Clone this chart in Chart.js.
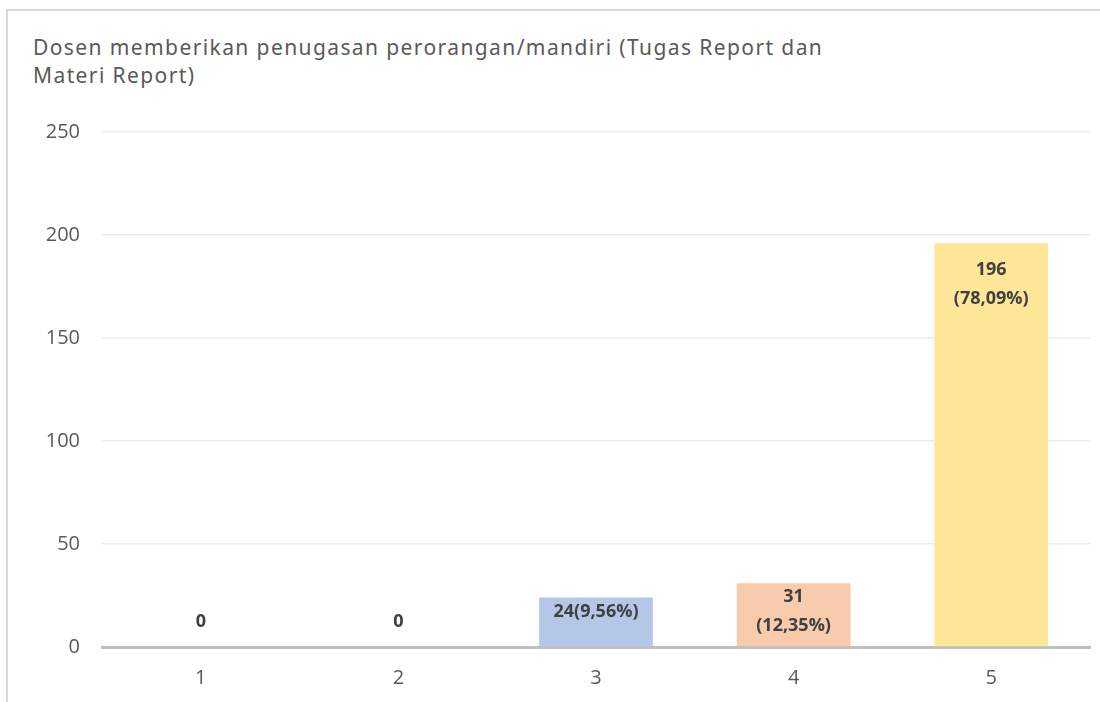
<!DOCTYPE html>
<html>
<head>
<meta charset="utf-8">
<script src="https://cdn.jsdelivr.net/npm/chart.js@4"></script>
<style>
  html, body { margin: 0; padding: 0; background: #fff; overflow: hidden; }
  #wrap { position: relative; width: 1100px; height: 702px; }
  #frame { position: absolute; left: 6px; top: 9px; width: 1100px; height: 700px; border: 2px solid #d9d9d9; box-sizing: border-box; }
  #title { position: absolute; left: 33px; top: 33px; font-family: "Noto Sans", sans-serif; font-size: 21px; line-height: 28px; color: #595959; letter-spacing: 1.4px; }
  canvas { position: absolute; left: 0; top: 0; }
</style>
</head>
<body>
<div id="wrap">
  <div id="frame"></div>
  <div id="title">Dosen memberikan penugasan perorangan/mandiri (Tugas Report dan<br>Materi Report)</div>
  <canvas id="chart" width="1100" height="702"></canvas>
</div>
<script>
const categories = ['1', '2', '3', '4', '5'];
const counts = [0, 0, 24, 31, 196];
const barLabels = [['0'], ['0'], ['24(9,56%)'], ['31', '(12,35%)'], ['196', '(78,09%)']];
const barColors = ['#b4c7e7', '#b4c7e7', '#b4c7e7', '#f8cbad', '#ffe699'];
const yTicks = [0, 50, 100, 150, 200, 250];

// Labels drawn on/above each bar
const barLabelPlugin = {
  id: 'barLabels',
  afterDatasetsDraw(chart) {
    const ctx = chart.ctx;
    const meta = chart.getDatasetMeta(0);
    ctx.save();
    ctx.font = 'bold 18px "Open Sans", sans-serif';
    ctx.fillStyle = '#404040';
    ctx.textAlign = 'center';
    ctx.textBaseline = 'middle';
    meta.data.forEach((bar, i) => {
      const lines = barLabels[i];
      let y;
      if (counts[i] === 0) y = bar.base - 25;
      else if (counts[i] > 100) y = bar.y + 27;
      else y = bar.y + 14;
      lines.forEach((txt, j) => ctx.fillText(txt, bar.x, y + j * 29));
    });
    ctx.restore();
  }
};

const tickFont = { family: '"Open Sans", sans-serif', size: 20 };

new Chart(document.getElementById('chart'), {
  type: 'bar',
  data: {
    labels: categories,
    datasets: [{
      data: counts,
      backgroundColor: barColors,
      borderWidth: 0,
      categoryPercentage: 1,
      barPercentage: 0.575
    }]
  },
  options: {
    responsive: false,
    animation: false,
    layout: { padding: { top: 132, right: 10, left: 0, bottom: 0 } },
    plugins: { legend: { display: false }, tooltip: { enabled: false } },
    scales: {
      x: {
        grid: { display: false, drawTicks: false },
        border: { color: '#bfbfbf', width: 3 },
        ticks: { color: '#595959', font: tickFont, padding: 19 },
        afterFit(scale) { scale.height = 55; }
      },
      y: {
        min: 0,
        max: 250,
        afterBuildTicks(scale) { scale.ticks = yTicks.map(v => ({ value: v })); },
        grid: { color: '#ececec', lineWidth: 1.5, drawTicks: false },
        border: { display: false },
        ticks: { color: '#595959', font: tickFont, padding: 22 },
        afterFit(scale) { scale.width = 102; }
      }
    }
  },
  plugins: [barLabelPlugin]
});
</script>
</body>
</html>
